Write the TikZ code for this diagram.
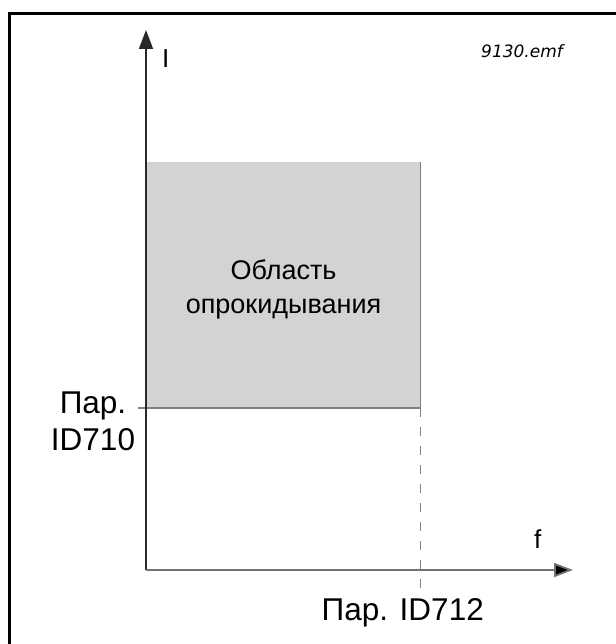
\documentclass[tikz,border=0pt]{standalone}
\usepackage{fontspec}
\setmainfont{Liberation Sans}
\newfontfamily\emffont{DejaVu Sans}
\usetikzlibrary{arrows.meta}
\definecolor{areagray}{RGB}{210,211,213}
\definecolor{axisgray}{RGB}{115,115,115}
\definecolor{linegray}{RGB}{128,128,128}
\definecolor{axisdark}{RGB}{40,40,40}
\tikzset{
  frameline/.style={line width=3pt, black},
  yaxis/.style={line width=1.6pt, axisdark, -{Triangle[length=19pt,width=14pt]}},
  xaxis/.style={line width=1.8pt, axisgray, -{Triangle[length=19pt,width=14pt,fill=black]}},
  limitline/.style={line width=1.5pt, linegray},
  dashline/.style={line width=1pt, linegray, dash pattern=on 9pt off 10pt},
  biglabel/.style={inner sep=0pt, font=\fontsize{31.5}{37}\selectfont},
  axislabel/.style={inner sep=0pt, font=\fontsize{26}{30}\selectfont},
  arealabel/.style={inner sep=0pt, font=\fontsize{27}{34}\selectfont, align=center},
  filelabel/.style={inner sep=0pt, font=\emffont\itshape\fontsize{17}{20}\selectfont}
}
\begin{document}
\begin{tikzpicture}[x=1pt,y=-1pt]
\useasboundingbox (0,0) rectangle (615,644);
% frame
\coordinate (fbl) at (9.5,650);
\coordinate (ftl) at (9.5,13.5);
\coordinate (ftr) at (620,13.5);
\draw[frameline] (fbl) -- (ftl) -- (ftr);
% region
\coordinate (ra) at (147,162);
\coordinate (rb) at (420,408);
\fill[areagray] (ra) rectangle (rb);
\coordinate (rtr) at (420,162);
\draw[line width=1pt, linegray] (rtr) -- (rb);
\coordinate (hl) at (138,408);
\draw[limitline] (hl) -- (rb);
\coordinate (db) at (420,590);
\draw[dashline] (rb) -- (db);
% axes
\coordinate (O) at (146,570);
\coordinate (ytip) at (146,30);
\coordinate (xtip) at (573,570);
\draw[yaxis] (O) -- (ytip);
\draw[xaxis] (O) -- (xtip);
% labels
\node[axislabel, anchor=base west] (ilab) at (162,68) {I};
\node[axislabel, anchor=base west] (flab) at (534,548) {f};
\node[filelabel, anchor=base west] (file) at (481,58) {9130.emf};
\node[arealabel, anchor=base] (area) at (283.5,313) {Область\\опрокидывания};
\node[biglabel, align=center, anchor=base] (p710) at (93,450) {Пар.\\ID710};
\node[biglabel, anchor=base east] (p712) at (484,620) {Пар. ID712};
\end{tikzpicture}
\end{document}
